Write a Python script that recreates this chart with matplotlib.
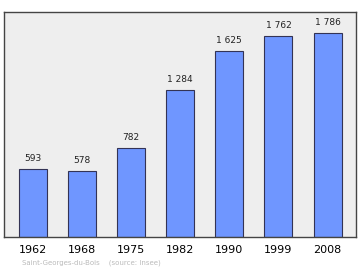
import matplotlib.pyplot as plt
import numpy as np

years = ['1962', '1968', '1975', '1982', '1990', '1999', '2008']
population = [593, 578, 782, 1284, 1625, 1762, 1786]
labels = ['593', '578', '782', '1 284', '1 625', '1 762', '1 786']

fig = plt.figure(figsize=(3.6, 2.7), dpi=100)
ax = fig.add_axes([4/360, 1 - 237/270, 352/360, 225/270])
ax.set_facecolor('#eeeeee')

x = np.arange(len(years))
ax.bar(x, population, width=0.57, color='#6f96ff', edgecolor='#333355', linewidth=0.8)
for xi, v, lab in zip(x, population, labels):
    ax.text(xi, v + 50, lab, ha='center', va='bottom', fontsize=6.5, color='#222222')

ax.set_xlim(-0.59, 6.58)
ax.set_ylim(0, 1968)
ax.set_xticks(x)
ax.set_xticklabels(years, fontsize=8)
ax.tick_params(axis='x', length=0, pad=6)
ax.set_yticks([])
for s in ax.spines.values():
    s.set_color('#444444')
    s.set_linewidth(1.0)

fig.text(22/360, 1 - 263/270, 'Saint-Georges-du-Bois    (source: Insee)',
         fontsize=5, color='#bbbbbb', va='center')

fig.savefig('out.png', dpi=100)
